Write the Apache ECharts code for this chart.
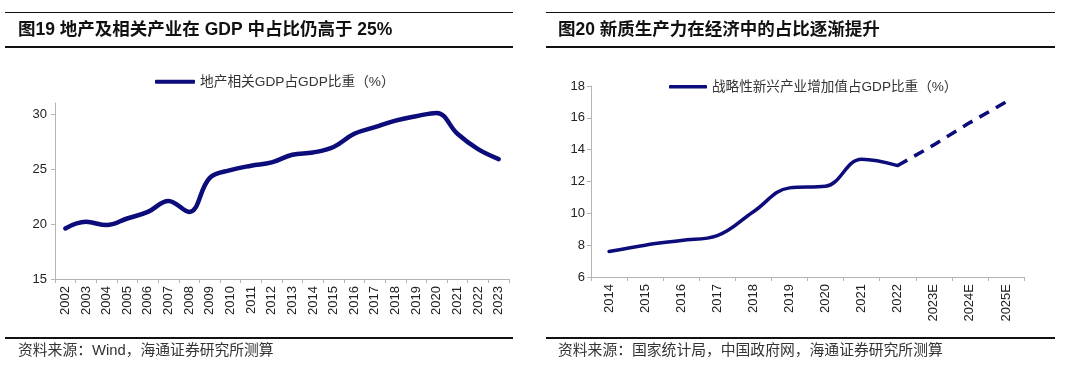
<!DOCTYPE html>
<html>
<head>
<meta charset="utf-8">
<script src="https://cdn.jsdelivr.net/npm/echarts@6/dist/echarts.min.js"></script>
<style>
html,body{margin:0;padding:0;background:#fff;}
#c{width:1080px;height:368px;}
</style>
</head>
<body>
<div id="c"></div>
<script>
// ---- data ----
const leftTitle = '图19 地产及相关产业在 GDP 中占比仍高于 25%';
const rightTitle = '图20 新质生产力在经济中的占比逐渐提升';
const leftSource = '资料来源：Wind，海通证券研究所测算';
const rightSource = '资料来源：国家统计局，中国政府网，海通证券研究所测算';

const leftYears = ['2002','2003','2004','2005','2006','2007','2008','2009','2010','2011','2012','2013','2014','2015','2016','2017','2018','2019','2020','2021','2022','2023'];
const leftName = '地产相关GDP占GDP比重（%）';
const leftValues = [19.6,20.2,19.9,20.5,21.1,22.1,21.1,24.2,24.9,25.3,25.6,26.3,26.5,27.0,28.2,28.8,29.4,29.8,30.1,28.2,26.8,25.9];
const leftTicks = [15,20,25,30];

const rightYears = ['2014','2015','2016','2017','2018','2019','2020','2021','2022','2023E','2024E','2025E'];
const rightName = '战略性新兴产业增加值占GDP比重（%）';
const rightActual = [7.6,8.0,8.3,8.6,10.1,11.6,11.7,13.4,13.0,null,null,null];
const rightForecast = [null,null,null,null,null,null,null,null,13.0,14.3,15.7,17.0];

const NAVY = '#0c0c7a';
const AXIS = '#b4b4b4';
const TXT = '#222';
const FONT = '"Liberation Sans", Arial, "Noto Sans CJK SC", sans-serif';

const chart = echarts.init(document.getElementById('c'), null, {renderer:'canvas'});

function hline(x1,x2,y,w){
  return {type:'line', shape:{x1:x1,y1:y,x2:x2,y2:y}, style:{stroke:'#111', lineWidth:w}, silent:true};
}
function txt(x,y,t,size,weight,color){
  return {type:'text', x:x, y:y, style:{text:t, fontSize:size, fontWeight:weight, fill:color, fontFamily:FONT, verticalAlign:'middle'}, silent:true};
}

const option = {
  backgroundColor:'#fff',
  animation:false,
  graphic:[
    hline(5,513,12.5,1), hline(5,513,47,2), hline(5,513,338,2),
    hline(546,1055,12.5,1), hline(546,1055,47,2), hline(546,1055,338,2),
    txt(18,30,leftTitle,17.5,'bold','#111'),
    txt(558,30,rightTitle,17.5,'bold','#111'),
    txt(18,351,leftSource,14.8,'normal','#333'),
    txt(558,351,rightSource,14.8,'normal','#333')
  ],
  legend:[
    {data:[leftName], left:150, top:70, icon:'roundRect', itemWidth:40, itemHeight:4,
     textStyle:{fontSize:13.7, color:'#333', fontFamily:FONT}},
    {data:[rightName], left:664, top:75, icon:'roundRect', itemWidth:38, itemHeight:3.5,
     textStyle:{fontSize:13.6, color:'#333', fontFamily:FONT}}
  ],
  grid:[
    {left:55, top:103, width:454, height:176},
    {left:591, top:86, width:433, height:191}
  ],
  xAxis:[
    {type:'category', gridIndex:0, data:leftYears, boundaryGap:true,
     axisLine:{lineStyle:{color:AXIS}}, axisTick:{show:true, length:4, lineStyle:{color:AXIS}},
     axisLabel:{rotate:90, fontSize:13, color:TXT, fontFamily:FONT, margin:7, interval:0}},
    {type:'category', gridIndex:1, data:rightYears, boundaryGap:true,
     axisLine:{lineStyle:{color:AXIS}}, axisTick:{show:true, length:4, lineStyle:{color:AXIS}},
     axisLabel:{rotate:90, fontSize:13, color:TXT, fontFamily:FONT, margin:7, interval:0}}
  ],
  yAxis:[
    {type:'value', gridIndex:0, min:15, max:31, interval:5,
     axisLine:{show:true, lineStyle:{color:AXIS}},
     axisTick:{show:true, length:4, lineStyle:{color:AXIS}, customValues:leftTicks},
     axisLabel:{fontSize:13, color:TXT, fontFamily:FONT, margin:8, customValues:leftTicks},
     splitLine:{show:false}},
    {type:'value', gridIndex:1, min:6, max:18, interval:2,
     axisLine:{show:true, lineStyle:{color:AXIS}},
     axisTick:{show:true, length:4, lineStyle:{color:AXIS}},
     axisLabel:{fontSize:13, color:TXT, fontFamily:FONT, margin:6},
     splitLine:{show:false}}
  ],
  series:[
    {name:leftName, type:'line', xAxisIndex:0, yAxisIndex:0, data:leftValues, smooth:0.4,
     showSymbol:false, symbol:'none', color:NAVY, lineStyle:{width:4.5, color:NAVY, cap:'round'}},
    {name:rightName, type:'line', xAxisIndex:1, yAxisIndex:1, data:rightActual, smooth:0.4,
     showSymbol:false, symbol:'none', color:NAVY, lineStyle:{width:3.5, color:NAVY, cap:'round'}},
    {name:'forecast', type:'line', xAxisIndex:1, yAxisIndex:1, data:rightForecast, smooth:false,
     showSymbol:false, symbol:'none', color:NAVY, lineStyle:{width:3.5, color:NAVY, type:[11,8]}}
  ]
};
chart.setOption(option);
</script>
</body>
</html>
